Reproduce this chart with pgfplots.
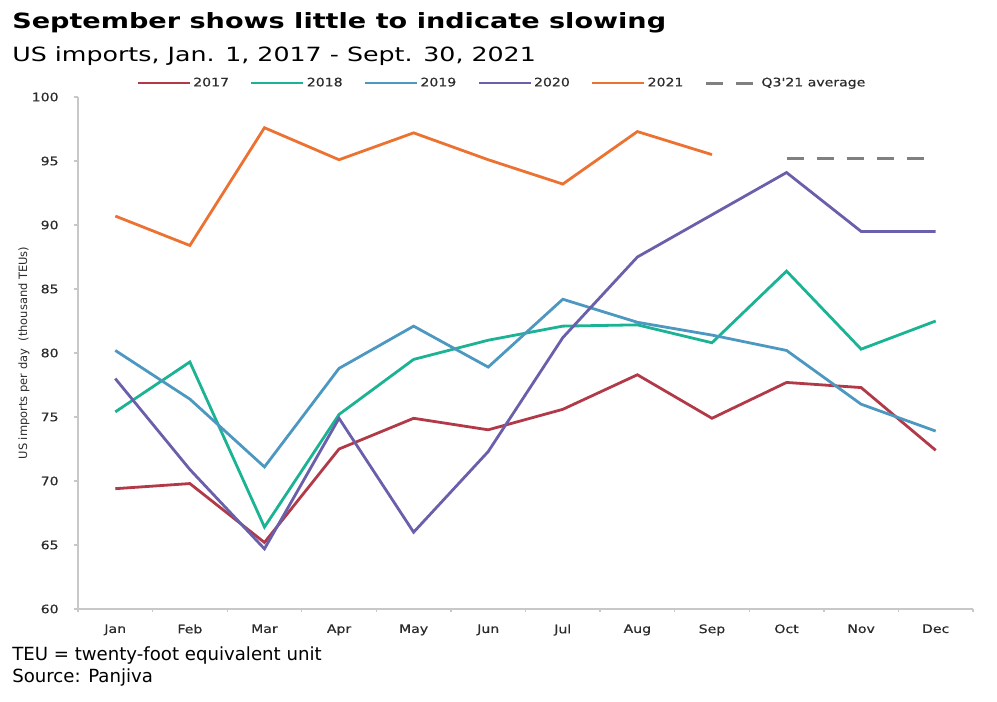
\documentclass[border=0pt]{standalone}
\usepackage{fontspec}
\setmainfont{DejaVu Sans}
\newfontfamily\titlefont{DejaVu Sans}[FakeStretch=1.29]
\newfontfamily\tickfont{DejaVu Sans}[FakeStretch=1.2, FakeBold=0.5]
\usepackage{pgfplots}
\pgfplotsset{compat=1.18}

\definecolor{c2017}{HTML}{B23A48}
\definecolor{c2018}{HTML}{1BB394}
\definecolor{c2019}{HTML}{4C98C0}
\definecolor{c2020}{HTML}{6A5FAA}
\definecolor{c2021}{HTML}{EC7232}
\definecolor{cavg}{HTML}{808080}
\definecolor{axisgray}{HTML}{C8C8C8}
\definecolor{textgray}{HTML}{2B2B2B}

\begin{document}
\begin{tikzpicture}
\useasboundingbox (0,0) rectangle (747.75pt,-525.75pt);

\node[anchor=base west, inner sep=0pt] at (9pt,-21pt)
  {\titlefont\bfseries\fontsize{15.75pt}{18pt}\selectfont September shows little to indicate slowing};
\node[anchor=base west, inner sep=0pt] at (9pt,-45.75pt)
  {\titlefont\fontsize{14.7pt}{17pt}\selectfont US imports, Jan. 1, 2017 - Sept. 30, 2021};

\begin{axis}[
    at={(58.5pt,-456.75pt)}, anchor=south west,
    scale only axis,
    width=671.25pt, height=384pt,
    xmin=-0.5, xmax=11.5,
    ymin=60, ymax=100,
    axis x line*=bottom, axis y line*=left,
    axis line style={draw=axisgray, line width=1pt},
    xtick={0,...,11},
    xticklabels={Jan,Feb,Mar,Apr,May,Jun,Jul,Aug,Sep,Oct,Nov,Dec},
    minor xtick={-0.5,0.5,...,11.5},
    every major x tick/.append style={draw=none},
    every minor x tick/.append style={draw=axisgray, line width=1pt},
    every major y tick/.append style={draw=axisgray, line width=1pt},
    tick align=outside,
    major tick length=3pt,
    minor tick length=2.6pt,
    ytick={60,65,...,100},
    /pgf/number format/assume math mode=true,
    ticklabel style={font=\tickfont\fontsize{8.8pt}{10pt}\selectfont, text=textgray},
    xticklabel style={yshift=-5pt},
    yticklabel style={xshift=-8pt},
    ylabel={US imports per day\ \ (thousand TEUs)},
    every axis y label/.style={at={(rel axis cs:0,0.5)}, xshift=-40.5pt, rotate=90, anchor=center,
        font=\fontsize{8.6pt}{10pt}\selectfont, text=textgray},
    legend columns=6,
    legend style={at={(0.065,1)}, anchor=west, yshift=10.5pt,
        draw=none, fill=none, inner sep=0pt,
        nodes={inner sep=0pt},
        font=\tickfont\fontsize{8.8pt}{10pt}\selectfont, text=textgray,
        /tikz/every odd column/.append style={column sep=1.5pt},
        /tikz/every even column/.append style={column sep=12.6pt}},
    legend image code/.code={\draw[#1] (0pt,0pt) -- (39pt,0pt);},
]

\addplot[c2017, line width=2.1pt] coordinates {
  (0,69.4)(1,69.8)(2,65.2)(3,72.5)(4,74.9)(5,74.0)(6,75.6)(7,78.3)(8,74.9)(9,77.7)(10,77.3)(11,72.4)
};
\addlegendentry{\makebox[30pt][l]{2017}}

\addplot[c2018, line width=2.1pt] coordinates {
  (0,75.4)(1,79.3)(2,66.4)(3,75.2)(4,79.5)(5,81.0)(6,82.1)(7,82.2)(8,80.8)(9,86.4)(10,80.3)(11,82.5)
};
\addlegendentry{\makebox[30pt][l]{2018}}

\addplot[c2019, line width=2.1pt] coordinates {
  (0,80.2)(1,76.4)(2,71.1)(3,78.8)(4,82.1)(5,78.9)(6,84.2)(7,82.4)(8,81.4)(9,80.2)(10,76.0)(11,73.9)
};
\addlegendentry{\makebox[30pt][l]{2019}}

\addplot[c2020, line width=2.1pt] coordinates {
  (0,78.0)(1,70.9)(2,64.7)(3,74.9)(4,66.0)(5,72.3)(6,81.2)(7,87.5)(8,90.8)(9,94.1)(10,89.5)(11,89.5)
};
\addlegendentry{\makebox[30pt][l]{2020}}

\addplot[c2021, line width=2.1pt] coordinates {
  (0,90.7)(1,88.4)(2,97.6)(3,95.1)(4,97.2)(5,95.1)(6,93.2)(7,97.3)(8,95.5)
};
\addlegendentry{\makebox[30pt][l]{2021}}

\addplot[cavg, line width=2.25pt, dash pattern=on 12.75pt off 9.75pt] coordinates {
  (9,95.2)(11,95.2)
};
\addlegendentry{Q3'21 average}

\end{axis}

\node[anchor=base west, inner sep=0pt] at (9pt,-495pt)
  {\fontsize{13.6pt}{15pt}\selectfont TEU = twenty-foot equivalent unit};
\node[anchor=base west, inner sep=0pt] at (9pt,-511.5pt)
  {\fontsize{13.6pt}{15pt}\selectfont Source: Panjiva};
\end{tikzpicture}
\end{document}
